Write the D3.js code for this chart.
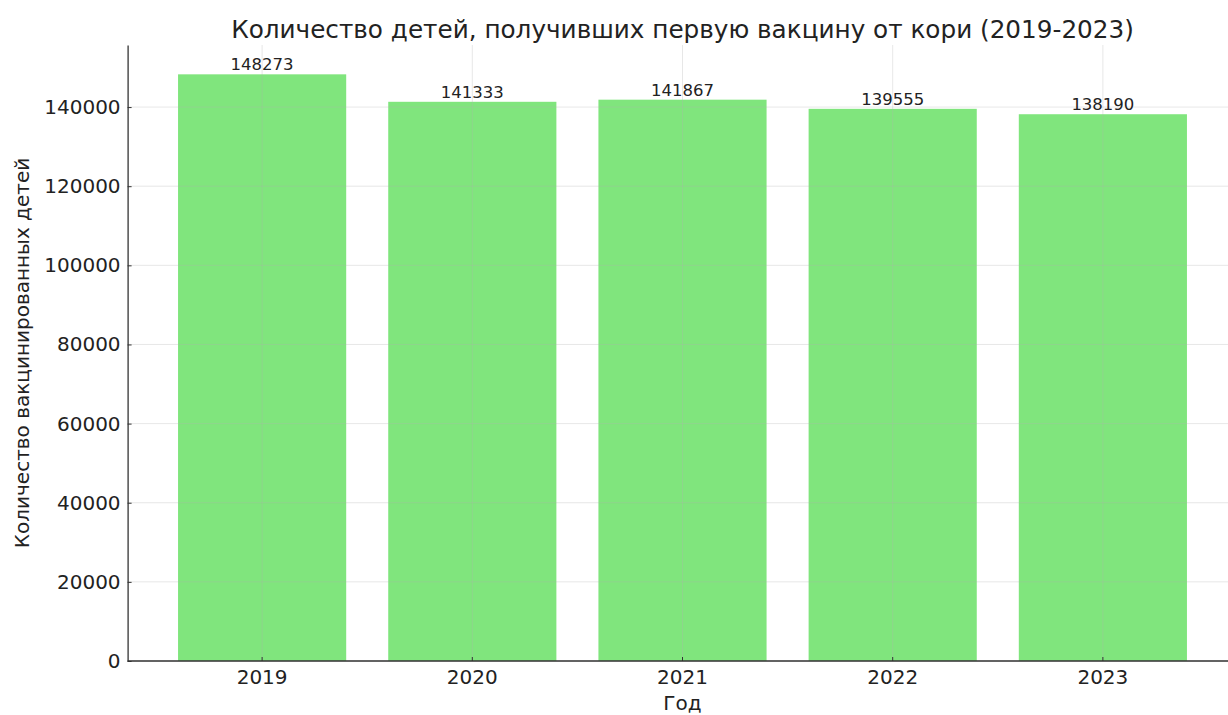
<!DOCTYPE html>
<html>
<head>
<meta charset="utf-8">
<script src="https://cdn.jsdelivr.net/npm/d3@7"></script>
<style>
  html, body { margin: 0; padding: 0; background: #fff; }
  svg { display: block; font-family: "DejaVu Sans", sans-serif; }
</style>
</head>
<body>
<svg id="chart" width="1228" height="715"></svg>
<script>
// Measles first-dose vaccinations by year
const years = ["2019", "2020", "2021", "2022", "2023"];
const vaccinated = [148273, 141333, 141867, 139555, 138190];
const yTicks = [0, 20000, 40000, 60000, 80000, 100000, 120000, 140000];

const svg = d3.select("#chart");
const plot = { left: 127.6, right: 1237.4, top: 45, bottom: 661 };

// Band layout: bars take 0.8 of each slot, with 0.24-slot padding at both ends
const step = (plot.right - plot.left) / (years.length + 0.28);
const x = d3.scaleBand()
  .domain(years)
  .range([plot.left + 0.14 * step, plot.right - 0.14 * step])
  .paddingInner(0.2)
  .paddingOuter(0.1);

const yMax = d3.max(vaccinated) * 1.05;
const y = d3.scaleLinear().domain([0, yMax]).range([plot.bottom, plot.top]);

// Bars
svg.append("g")
  .selectAll("rect")
  .data(years)
  .join("rect")
  .attr("x", d => x(d))
  .attr("width", x.bandwidth())
  .attr("y", (d, i) => y(vaccinated[i]))
  .attr("height", (d, i) => y(0) - y(vaccinated[i]))
  .attr("fill", "#80e57d");

// Grid lines drawn above the bars
const grid = svg.append("g").attr("stroke", "#b0b0b0").attr("stroke-opacity", 0.3).attr("stroke-width", 1);
grid.selectAll("line.h")
  .data(yTicks)
  .join("line")
  .attr("class", "h")
  .attr("x1", plot.left).attr("x2", plot.right)
  .attr("y1", d => y(d)).attr("y2", d => y(d));
grid.selectAll("line.v")
  .data(years)
  .join("line")
  .attr("class", "v")
  .attr("x1", d => x(d) + x.bandwidth() / 2).attr("x2", d => x(d) + x.bandwidth() / 2)
  .attr("y1", plot.top).attr("y2", plot.bottom);

// Value labels
svg.append("g")
  .selectAll("text")
  .data(years)
  .join("text")
  .attr("x", d => x(d) + x.bandwidth() / 2)
  .attr("y", (d, i) => y(vaccinated[i]) - 4)
  .attr("text-anchor", "middle")
  .attr("font-size", 16.5)
  .attr("fill", "#222")
  .text((d, i) => vaccinated[i]);

// Axes with inward ticks
const yAxis = d3.axisLeft(y).tickValues(yTicks).tickFormat(d3.format("d")).tickSizeInner(-4).tickSizeOuter(0).tickPadding(7);
const gy = svg.append("g").attr("transform", `translate(${plot.left},0)`).call(yAxis);
gy.attr("font-size", null).attr("font-family", null);
gy.selectAll("text").attr("font-size", 20).attr("fill", "#222");

const xAxis = d3.axisBottom(x).tickSizeInner(-4).tickSizeOuter(0).tickPadding(9);
const gx = svg.append("g").attr("transform", `translate(0,${plot.bottom})`).call(xAxis);
gx.attr("font-size", null).attr("font-family", null);
gx.selectAll("text").attr("font-size", 20).attr("fill", "#222");
gx.select(".domain").attr("d", `M${plot.left},0H${plot.right}`);

svg.selectAll(".domain").attr("stroke", "#333").attr("stroke-width", 1.3);
svg.selectAll(".tick line").attr("stroke", "#333");

// Titles
svg.append("text")
  .attr("x", (plot.left + plot.right) / 2)
  .attr("y", 38)
  .attr("text-anchor", "middle")
  .attr("font-size", 24.7)
  .attr("fill", "#222")
  .text("Количество детей, получивших первую вакцину от кори (2019-2023)");

svg.append("text")
  .attr("x", (plot.left + plot.right) / 2)
  .attr("y", 710)
  .attr("text-anchor", "middle")
  .attr("font-size", 20)
  .attr("fill", "#222")
  .text("Год");

svg.append("text")
  .attr("transform", `translate(29,${(plot.top + plot.bottom) / 2}) rotate(-90)`)
  .attr("text-anchor", "middle")
  .attr("font-size", 20)
  .attr("fill", "#222")
  .text("Количество вакцинированных детей");
</script>
</body>
</html>
